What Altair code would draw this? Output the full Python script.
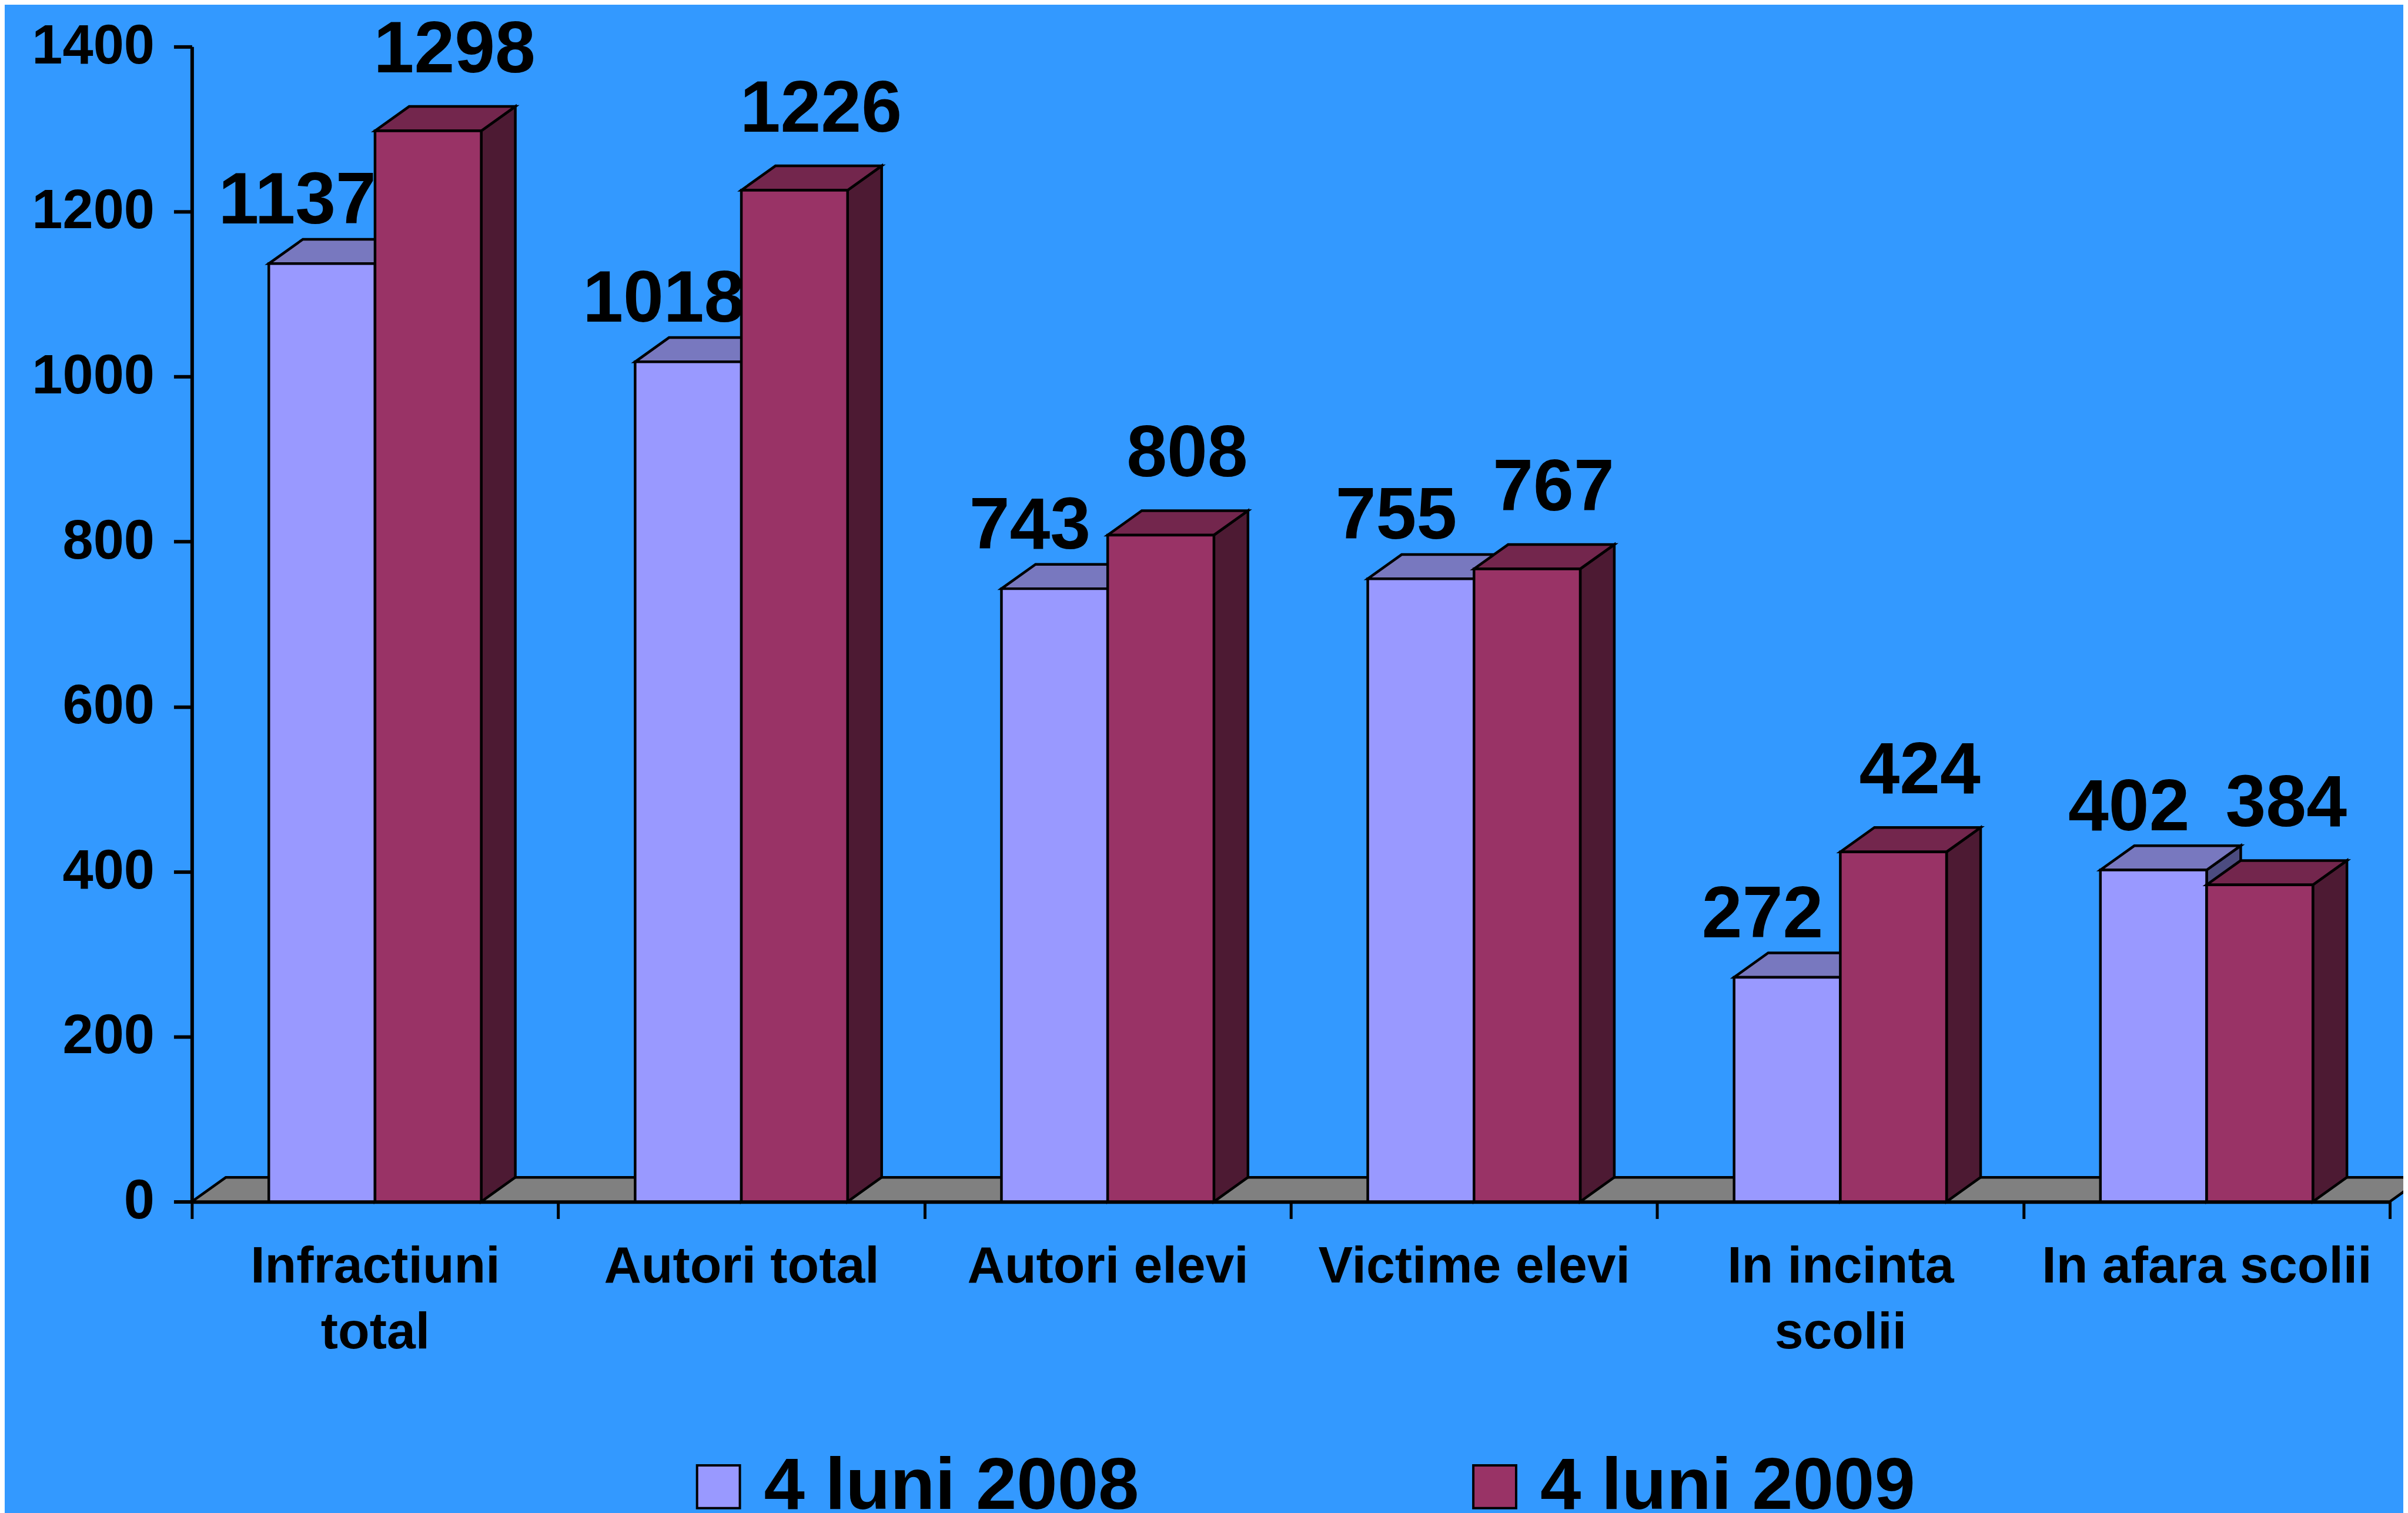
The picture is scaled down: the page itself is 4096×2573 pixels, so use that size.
import json
import altair as alt
import pandas as pd

# ---------------- data ----------------
categories = ["Infractiuni total", "Autori total", "Autori elevi",
              "Victime elevi", "In incinta scolii", "In afara scolii"]
category_lines = [["Infractiuni", "total"], ["Autori total"], ["Autori elevi"],
                  ["Victime elevi"], ["In incinta", "scolii"], ["In afara scolii"]]
series_names = ["4 luni 2008", "4 luni 2009"]
values_2008 = [1137, 1018, 743, 755, 272, 402]
values_2009 = [1298, 1226, 808, 767, 424, 384]
y_ticks = [0, 200, 400, 600, 800, 1000, 1200, 1400]

# ---------------- style / layout ----------------
BAR_W = 0.29      # bar width, in category units
DEPTH_X = 0.093   # 3-D depth shift, category units
DEPTH_Y = 29.5    # 3-D depth shift, value units
front_colors = ["#9999FF", "#993366"]
top_colors = ["#7878BF", "#73264D"]
side_colors = ["#4C4C80", "#4D1A33"]
FONT = "Liberation Sans"
label_dx = [-42, 45]
label_dy = [-68, -100]

series_values = [values_2008, values_2009]
n = len(categories)

xscale = alt.Scale(domain=[0, n], nice=False, zero=False)
yscale = alt.Scale(domain=[0, 1400], nice=False)

yaxis = alt.Axis(values=y_ticks, format="d", title=None, grid=False, tickSize=31, tickWidth=6,
                 tickColor="black", domainColor="black", domainWidth=6, labelPadding=33,
                 labelFont=FONT, labelFontSize=94, labelFontWeight="bold", labelColor="black",
                 labelLimit=0)

X = alt.X("x:Q", scale=xscale, axis=None)
Y = alt.Y("y:Q", scale=yscale, axis=yaxis)

# category axis (band scale over the same width)
label_expr = (json.dumps(category_lines) + "[indexof(" + json.dumps(categories) + ", datum.label)]")
cat_axis = alt.Axis(orient="bottom", title=None, grid=False, tickBand="extent",
                    tickSize=29, tickWidth=5, tickColor="black", domainColor="black",
                    domainWidth=6.5, labelPadding=38, labelFont=FONT, labelFontSize=88,
                    labelFontWeight="bold", labelColor="black", labelLineHeight=112,
                    labelBaseline="top", labelAngle=0, labelExpr=label_expr, labelLimit=0)
cat_df = pd.DataFrame({"category": categories, "y": [0] * n})
cat_layer = alt.Chart(cat_df).mark_point(opacity=0).encode(
    x=alt.X("category:N", sort=categories,
            scale=alt.Scale(domain=categories, paddingInner=0, paddingOuter=0),
            axis=cat_axis),
    y=Y)

# floor
floor_df = pd.DataFrame([dict(y=0, x=0, x2=n), dict(y=DEPTH_Y, x=DEPTH_X, x2=n + DEPTH_X)])
floor = alt.Chart(floor_df).mark_area(orient="horizontal", fill="#808080", stroke="black",
                                      strokeWidth=4.5).encode(x=X, x2="x2:Q", y=Y)

layers = [floor]
label_layers = []
for s, vals in enumerate(series_values):
    fr, sd, tp = [], [], []
    for i, v in enumerate(vals):
        x0 = i + 0.5 - BAR_W + s * BAR_W
        x1 = x0 + BAR_W
        bid = f"{s}-{i}"
        fr.append(dict(series=series_names[s], category=categories[i], x=x0, x2=x1,
                       y=0, y2=v, value=v, xc=(x0 + x1) / 2))
        sd += [dict(bar=bid, x=x1, y=v, y2=0),
               dict(bar=bid, x=x1 + DEPTH_X, y=v + DEPTH_Y, y2=DEPTH_Y)]
        tp += [dict(bar=bid, y=v, x=x0, x2=x1),
               dict(bar=bid, y=v + DEPTH_Y, x=x0 + DEPTH_X, x2=x1 + DEPTH_X)]
    fr_df, sd_df, tp_df = pd.DataFrame(fr), pd.DataFrame(sd), pd.DataFrame(tp)

    side = alt.Chart(sd_df).mark_area(orient="vertical", fill=side_colors[s], stroke="black",
                                      strokeWidth=4.5).encode(x=X, y=Y, y2="y2:Q", detail="bar:N")
    top = alt.Chart(tp_df).mark_area(orient="horizontal", fill=top_colors[s], stroke="black",
                                     strokeWidth=4.5).encode(x=X, x2="x2:Q", y=Y, detail="bar:N")
    front = alt.Chart(fr_df).mark_rect(stroke="black", strokeWidth=4.5).encode(
        x=X, x2="x2:Q", y=Y, y2="y2:Q",
        color=alt.Color("series:N",
                        scale=alt.Scale(domain=series_names, range=front_colors),
                        legend=alt.Legend(title=None, orient="none", legendX=835, legendY=2391,
                                          direction="horizontal", symbolType="square",
                                          symbolSize=5329, symbolStrokeColor="black",
                                          symbolStrokeWidth=4, labelFont=FONT,
                                          labelFontSize=125, labelFontWeight="bold",
                                          labelColor="black", labelOffset=15,
                                          columnPadding=543, padding=0, labelLimit=0)))
    text = alt.Chart(fr_df).mark_text(font=FONT, fontSize=124, fontWeight="bold", color="black",
                                      align="center", baseline="alphabetic",
                                      dx=label_dx[s], dy=label_dy[s]).encode(
        x=alt.X("xc:Q", scale=xscale, axis=None),
        y=alt.Y("value:Q", scale=yscale, axis=yaxis),
        text="value:Q")
    layers += [side, top, front]
    label_layers.append(text)

chart = alt.layer(cat_layer, *layers, *label_layers).resolve_scale(x="independent").properties(
    width=3746, height=1968,
    autosize=alt.AutoSizeParams(type="none"),
    padding={"left": 319, "top": 69, "right": 23, "bottom": 528},
).configure(background="#3399FF").configure_view(stroke=None)

chart.save("out.html", embed_options={"renderer": "svg", "actions": False})
